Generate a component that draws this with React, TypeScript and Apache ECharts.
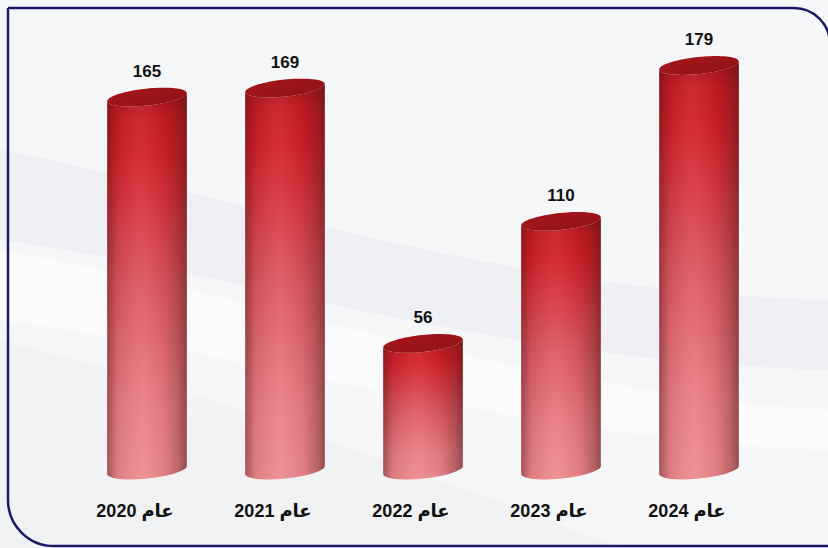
import React, { useEffect, useRef } from "react";
import * as echarts from "echarts";

const categories = ["عام 2020", "عام 2021", "عام 2022", "عام 2023", "عام 2024"];
const values = [165, 169, 56, 110, 179];
const yMax = 200;

const FONT = "'Liberation Sans', 'DejaVu Sans', Arial, sans-serif";

echarts.graphic.registerShape(
  "swooshA",
  echarts.graphic.extendPath(
    "M0,150 C220,190 480,290 828,300 L828,370 C480,360 230,270 0,240 Z",
    {}
  )
);
echarts.graphic.registerShape(
  "swooshB",
  echarts.graphic.extendPath(
    "M0,250 C240,290 520,390 828,410 L828,450 C520,440 240,350 0,320 Z",
    {}
  )
);
echarts.graphic.registerShape(
  "swooshC",
  echarts.graphic.extendPath(
    "M0,340 C200,390 420,470 620,548 L0,548 Z",
    {}
  )
);

const bodyGrad = {
  type: "linear",
  x: 0,
  y: 0,
  x2: 0,
  y2: 1,
  colorStops: [
    { offset: 0, color: "#a3131a" },
    { offset: 0.06, color: "#c81a22" },
    { offset: 0.16, color: "#d31f28" },
    { offset: 0.5, color: "#dd5660" },
    { offset: 0.8, color: "#ea7d84" },
    { offset: 1, color: "#ee8a8f" },
  ],
};
const shadeGrad = {
  type: "linear",
  x: 0,
  y: 0,
  x2: 1,
  y2: 0,
  colorStops: [
    { offset: 0, color: "rgba(70,20,20,0.45)" },
    { offset: 0.12, color: "rgba(70,20,20,0.12)" },
    { offset: 0.45, color: "rgba(255,255,255,0.06)" },
    { offset: 0.72, color: "rgba(70,20,20,0.08)" },
    { offset: 0.9, color: "rgba(70,20,20,0.3)" },
    { offset: 1, color: "rgba(60,20,20,0.5)" },
  ],
};
const topGrad = {
  type: "linear",
  x: 0,
  y: 0,
  x2: 1,
  y2: 1,
  colorStops: [
    { offset: 0, color: "#a9171c" },
    { offset: 1, color: "#8e1216" },
  ],
};

const ellPt = (cx: number, cy: number, rx: number, ry: number, rot: number, phi: number) => [
  cx + rx * Math.cos(phi) * Math.cos(rot) - ry * Math.sin(phi) * Math.sin(rot),
  cy + rx * Math.cos(phi) * Math.sin(rot) + ry * Math.sin(phi) * Math.cos(rot),
];

const renderItem = (params: any, api: any) => {
  const i = api.value(0);
  const v = api.value(1);
  const t = api.coord([i, v]);
  const b = api.coord([i, 0]);
  const cx = t[0];
  const yt = t[1];
  const yb = b[1];
  const rx = 40;
  const ry = 8.5;
  const rot = (-6 * Math.PI) / 180;
  const N = 40;
  const body: number[][] = [];
  body.push(ellPt(cx, yt, rx, ry, rot, Math.PI));
  for (let k = 0; k <= N; k++) {
    const phi = Math.PI - (Math.PI * k) / N;
    body.push(ellPt(cx, yb, rx, ry, rot, phi));
  }
  for (let k = 0; k <= N; k++) {
    const phi = (Math.PI * k) / N;
    body.push(ellPt(cx, yt, rx, ry, rot, phi));
  }
  const top: number[][] = [];
  for (let k = 0; k < 2 * N; k++) {
    top.push(ellPt(cx, yt, rx, ry, rot, (Math.PI * k) / N));
  }
  return {
    type: "group",
    children: [
      { type: "polygon", shape: { points: body }, style: { fill: bodyGrad } },
      { type: "polygon", shape: { points: body }, style: { fill: shadeGrad } },
      { type: "polygon", shape: { points: top }, style: { fill: topGrad } },
      {
        type: "text",
        x: cx,
        y: yt - 26,
        style: {
          text: String(v),
          fill: "#111111",
          font: `bold 17px ${FONT}`,
          align: "center",
          verticalAlign: "middle",
        },
      },
    ],
  };
};

export default function App() {
  const ref = useRef<HTMLDivElement>(null);
  useEffect(() => {
    document.body.style.margin = "0";
    if (!ref.current) return;
    const chart = echarts.init(ref.current, undefined, { renderer: "svg" });
    chart.setOption({
      animation: false,
      backgroundColor: "#f6f7f9",
      graphic: [
        { type: "swooshA", x: 0, y: 0, z: -10, silent: true, style: { fill: "#eff0f3" } },
        { type: "swooshB", x: 0, y: 0, z: -10, silent: true, style: { fill: "#fbfbfc" } },
        { type: "swooshC", x: 0, y: 0, z: -10, silent: true, style: { fill: "#f1f2f4" } },
        {
          type: "rect",
          z: 10,
          silent: true,
          shape: { x: 8, y: 8, width: 822, height: 538, r: [0, 36, 0, 46] },
          style: { fill: "none", stroke: "#1e1a6a", lineWidth: 2.5 },
        },
      ],
      grid: { left: 78, right: 60, top: 18, bottom: 78 },
      xAxis: {
        type: "category",
        data: categories,
        axisLine: { show: false },
        axisTick: { show: false },
        splitLine: { show: false },
        axisLabel: {
          margin: 31,
          color: "#111111",
          fontWeight: "bold",
          fontSize: 18,
          fontFamily: FONT,
          lineHeight: 20,
          padding: [0, 24, 0, 0],
        },
      },
      yAxis: { type: "value", min: 0, max: yMax, show: false },
      series: [
        {
          type: "custom",
          renderItem,
          encode: { x: 0, y: 1 },
          data: values.map((v, i) => [i, v]),
        },
      ],
    });
    return () => chart.dispose();
  }, []);
  return <div ref={ref} style={{ width: 828, height: 548 }} />;
}
